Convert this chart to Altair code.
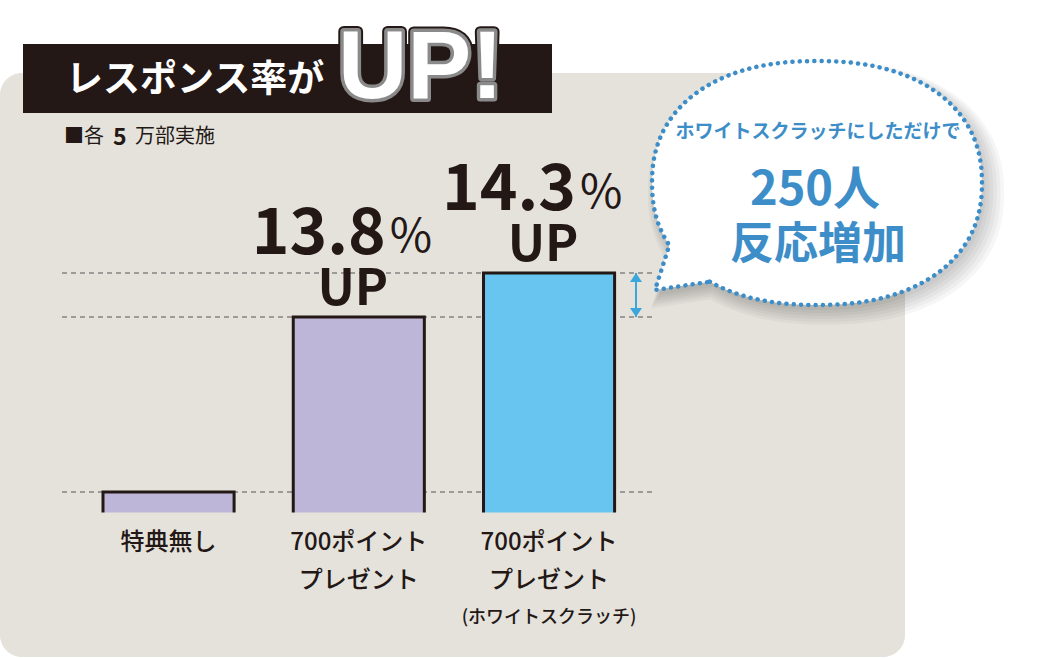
import math
import altair as alt
import pandas as pd

# ---------------- data ----------------
categories = ["特典無し", "700ポイントプレゼント", "700ポイントプレゼント（ホワイトスクラッチ）"]
bar_values = [2.0, 19.5, 23.9]          # relative bar heights (chart is illustrative)
bar_colors = ["#bdb6d8", "#bdb6d8", "#67c5f0"]
rise_labels = ["", "13.8", "14.3"]
line1 = ["特典無し", "700ポイント", "700ポイント"]
line2 = ["", "プレゼント", "プレゼント"]
line3 = ["", "", "(ホワイトスクラッチ)"]
bubble_lines = ["ホワイトスクラッチにしただけで", "250人", "反応増加"]
title_jp = "レスポンス率が"
title_up = "UP!"
note_parts = ["■各", "5", "万部実施"]

# ---------------- styles ----------------
INK = "#231815"
PANEL = "#e5e2dc"
BLUE = "#3d8ec8"
ARROW = "#3aa6dc"
JP = "Noto Sans CJK JP"

df = pd.DataFrame(dict(cat=categories, val=bar_values, color=bar_colors,
                       rise=rise_labels, l1=line1, l2=line2, l3=line3))
one = pd.DataFrame({"k": [0]})
arrow_df = pd.DataFrame({"top": [bar_values[2]], "bot": [bar_values[1]]})

xs = alt.Scale(domain=categories, range=[103, 614.6], paddingInner=0.311, paddingOuter=0)
ys = alt.Scale(domain=[-14.6, 51.2], range=[658, 0], nice=False, zero=False)
X = alt.X("cat:N", scale=xs, axis=None, sort=categories)
Y = alt.Y("val:Q", scale=ys, axis=None)

B = alt.Chart(one)

layers = []
# background panel
layers.append(B.mark_rect(color=PANEL, cornerRadius=22).encode(
    x=alt.value(0), x2=alt.value(905), y=alt.value(73), y2=alt.value(657)))
# title banner
layers.append(B.mark_rect(color=INK).encode(
    x=alt.value(23), x2=alt.value(552), y=alt.value(44), y2=alt.value(113)))
layers.append(B.mark_text(font=JP, fontWeight="bold", fontSize=37, color="white",
                          align="left", baseline="alphabetic").encode(
    x=alt.value(66), y=alt.value(92), text=alt.value(title_jp)))
for fill, stroke, sw in [(INK, INK, 11), ("#8a8a8a", "#8a8a8a", 7), ("white", None, 0)]:
    kw = dict(font="Liberation Sans", fontWeight="bold", fontSize=96, fill=fill,
              align="left", baseline="alphabetic")
    if stroke:
        kw.update(stroke=stroke, strokeWidth=sw, strokeJoin="round")
    layers.append(B.mark_text(**kw).encode(x=alt.value(338), y=alt.value(98),
                                           text=alt.value(title_up)))
# note
layers.append(B.mark_text(font=JP, fontSize=20, color=INK, align="left", baseline="alphabetic").encode(
    x=alt.value(64), y=alt.value(143), text=alt.value(note_parts[0])))
layers.append(B.mark_text(font=JP, fontWeight="bold", fontSize=23, color=INK, align="left",
                          baseline="alphabetic").encode(
    x=alt.value(113), y=alt.value(145), text=alt.value(note_parts[1])))
layers.append(B.mark_text(font=JP, fontSize=20, color=INK, align="left", baseline="alphabetic").encode(
    x=alt.value(135), y=alt.value(143), text=alt.value(note_parts[2])))

# dashed reference lines at bar tops
layers.append(alt.Chart(df).mark_rule(color="#555555", strokeWidth=1.2, strokeDash=[5, 4]).encode(
    x=alt.value(62), x2=alt.value(655), y=Y))
# bars
layers.append(alt.Chart(df).transform_calculate(base="-0.4").mark_bar(stroke=INK, strokeWidth=3).encode(
    x=X, y=Y, y2="base:Q", fill=alt.Fill("color:N", scale=None)))
# cover the bottom edge of the bars
layers.append(B.mark_rect(color=PANEL).encode(
    x=alt.value(90), x2=alt.value(640), y=alt.value(512.5), y2=alt.value(528)))

# category labels
layers.append(alt.Chart(df).mark_text(font=JP, fontWeight=500, fontSize=24, color=INK,
                                      baseline="alphabetic").encode(
    x=X, y=alt.value(550), text="l1:N"))
layers.append(alt.Chart(df).mark_text(font=JP, fontWeight=500, fontSize=24, color=INK,
                                      baseline="alphabetic").encode(
    x=X, y=alt.value(588), text="l2:N"))
layers.append(alt.Chart(df).mark_text(font=JP, fontWeight=500, fontSize=18, color=INK,
                                      baseline="alphabetic").encode(
    x=X, y=alt.value(623), text="l3:N"))

# rise labels
rise = alt.Chart(df).transform_filter("datum.rise != ''")
layers.append(rise.mark_text(font=JP, fontWeight="bold", fontSize=64, color=INK, align="right",
                             baseline="alphabetic", dx=27, dy=-63).encode(x=X, y=Y, text="rise:N"))
layers.append(rise.mark_text(font=JP, fontSize=46, color=INK, align="left",
                             baseline="alphabetic", dx=31, dy=-65).encode(x=X, y=Y, text=alt.value("%")))
layers.append(rise.mark_text(font=JP, fontWeight="bold", fontSize=50, color=INK, align="center",
                             baseline="alphabetic", dx=-6, dy=-12).encode(x=X, y=Y, text=alt.value("UP")))

# double arrow between the two top bars
A = alt.Chart(arrow_df)
layers.append(A.mark_rule(color=ARROW, strokeWidth=2).encode(
    x=alt.value(636), y=alt.Y("top:Q", scale=ys, axis=None), y2="bot:Q"))
layers.append(A.mark_point(shape="M0,0L1,1.5L-1,1.5Z", filled=True, size=144, color=ARROW, opacity=1).encode(
    x=alt.value(636), y=alt.Y("top:Q", scale=ys, axis=None)))
layers.append(A.mark_point(shape="M0,0L1,-1.5L-1,-1.5Z", filled=True, size=144, color=ARROW, opacity=1).encode(
    x=alt.value(636), y=alt.Y("bot:Q", scale=ys, axis=None)))

# speech bubble (shape in units of 100 px)
rx, ry, ex = 1.65, 1.22, 2.25
pts = []
a0, a1, n = 128, 152 - 360, 120
for i in range(n + 1):
    a = math.radians(a0 + (a1 - a0) * i / n)
    c, s = math.cos(a), math.sin(a)
    px = rx * math.copysign(abs(c) ** (2 / ex), c)
    py = ry * math.copysign(abs(s) ** (2 / ex), s)
    pts.append((px, py))
bubble_path = "M" + "L".join(f"{x:.4f},{y:.4f}" for x, y in pts) + "L-1.62,1.07Z"

for k in range(6):
    sc = 100 + 1.6 * k
    layers.append(B.mark_point(shape=bubble_path, filled=True, size=(2 * sc) ** 2, fill="black",
                               fillOpacity=0.035, opacity=1).encode(
        x=alt.value(821 + k), y=alt.value(188 + k)))
layers.append(B.mark_point(shape=bubble_path, filled=True, size=40000, fill="white", stroke=BLUE,
                           strokeWidth=4.5, strokeDash=[0.1, 7.2], strokeCap="round", opacity=1).encode(
    x=alt.value(817), y=alt.value(183)))
layers.append(B.mark_text(font=JP, fontWeight="bold", fontSize=19, color=BLUE, baseline="alphabetic").encode(
    x=alt.value(818), y=alt.value(138), text=alt.value(bubble_lines[0])))
layers.append(B.mark_text(font=JP, fontWeight="bold", fontSize=47, color=BLUE, baseline="alphabetic").encode(
    x=alt.value(815), y=alt.value(205), text=alt.value(bubble_lines[1])))
layers.append(B.mark_text(font=JP, fontWeight="bold", fontSize=44, color=BLUE, baseline="alphabetic").encode(
    x=alt.value(818), y=alt.value(259), text=alt.value(bubble_lines[2])))

chart = alt.layer(*layers).properties(
    width=1058, height=658, padding=0, background="white",
    autosize=alt.AutoSizeParams(type="none")
).configure_view(strokeWidth=0)

chart.save("out.html", embed_options={"renderer": "svg", "actions": False})
